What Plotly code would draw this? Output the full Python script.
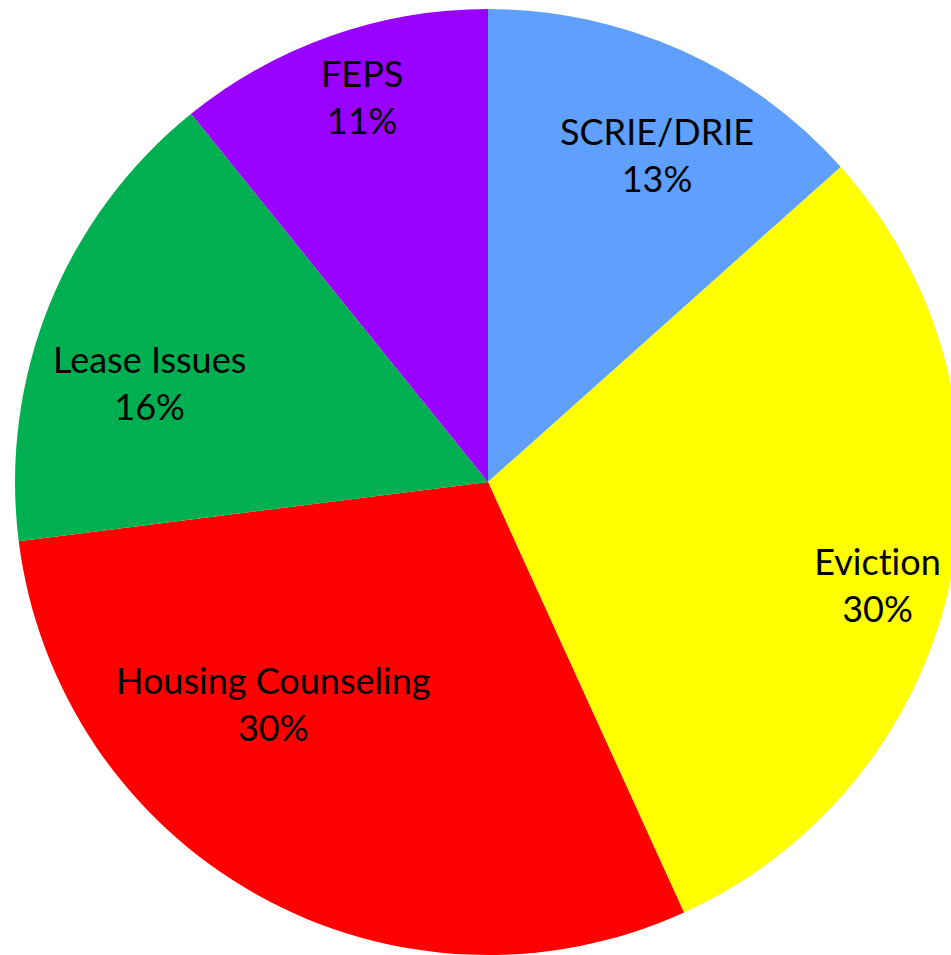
import math
import plotly.graph_objects as go

labels = ["SCRIE/DRIE", "Eviction", "Housing Counseling", "Lease Issues", "FEPS"]
values = [13.4, 29.8, 29.8, 16.2, 10.8]
colors = ["#5FA0FF", "#FFFF00", "#FF0000", "#00B050", "#9900FF"]

# label placement style (radial fraction of radius, angular nudge in degrees)
label_radius = [0.78, 0.852, 0.653, 0.746, 0.858]
label_nudge = [3.2, 2.9, 15.0, -5.5, 1.3]

W, H = 961, 955
dom_x = [15 / W, 1.0]
dom_y = [0.0, 1 - 9 / H]

fig = go.Figure(go.Pie(
    labels=labels,
    values=values,
    marker=dict(colors=colors, line=dict(width=0)),
    sort=False,
    direction="clockwise",
    rotation=0,
    textinfo="none",
    showlegend=False,
    hoverinfo="label+percent",
    domain=dict(x=dom_x, y=dom_y),
))

# pie geometry in paper coords
R_px = min((dom_x[1] - dom_x[0]) * W, (dom_y[1] - dom_y[0]) * H) / 2
cx = (dom_x[0] + dom_x[1]) / 2
cy = (dom_y[0] + dom_y[1]) / 2

total = sum(values)
cum = 0.0
for lab, v, rf, nd in zip(labels, values, label_radius, label_nudge):
    mid = (cum + v / 2) / total * 360.0 + nd
    cum += v
    th = math.radians(mid)
    x = cx + rf * R_px * math.sin(th) / W
    y = cy + rf * R_px * math.cos(th) / H
    pct = round(v / total * 100)
    fig.add_annotation(
        x=x, y=y, xref="paper", yref="paper",
        xanchor="center", yanchor="middle",
        text=f"{lab}<br>{pct}%",
        showarrow=False,
        font=dict(family="Lato, Open Sans, sans-serif", size=36, color="black"),
    )

fig.update_layout(
    width=W, height=H,
    margin=dict(l=0, r=0, t=0, b=0),
    paper_bgcolor="white",
    plot_bgcolor="white",
)

post = (
    "document.body.style.margin='0';"
    "document.body.style.overflow='hidden';"
    "var s=document.createElement('style');"
    "s.textContent='text{font-variant-ligatures:none !important;}';"
    "document.head.appendChild(s);"
)

fig.write_html(
    "out.html",
    config={"displayModeBar": False},
    post_script=post,
)
